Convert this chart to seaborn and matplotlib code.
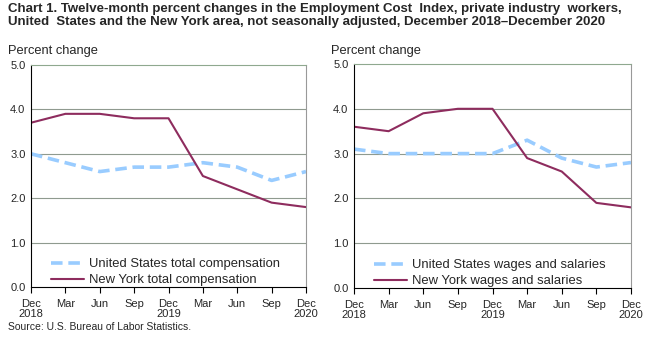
import matplotlib
matplotlib.use("Agg")
import matplotlib.pyplot as plt
import seaborn as sns
import pandas as pd

periods = ["Dec\n2018", "Mar", "Jun", "Sep", "Dec\n2019", "Mar", "Jun", "Sep", "Dec\n2020"]
us_total = [3.0, 2.8, 2.6, 2.7, 2.7, 2.8, 2.7, 2.4, 2.6]
ny_total = [3.7, 3.9, 3.9, 3.8, 3.8, 2.5, 2.2, 1.9, 1.8]
us_wages = [3.1, 3.0, 3.0, 3.0, 3.0, 3.3, 2.9, 2.7, 2.8]
ny_wages = [3.6, 3.5, 3.9, 4.0, 4.0, 2.9, 2.6, 1.9, 1.8]
yticks = [0.0, 1.0, 2.0, 3.0, 4.0, 5.0]

sns.set_style("white")
plt.rcParams['font.family'] = ['Liberation Sans', 'DejaVu Sans']

US_COLOR = "#99CCFF"
NY_COLOR = "#8E2C5E"
GRID = "#8f9a8f"
FRAME_TOP = "#8fa88f"
FRAME_RIGHT = "#999999"

fig = plt.figure(figsize=(6.53, 3.39), dpi=100)
W, H = 653, 339

def make_ax(x0, x1, y0, y1):
    return fig.add_axes([x0 / W, 1 - y1 / H, (x1 - x0) / W, (y1 - y0) / H])

panels = [
    (make_ax(31, 306, 65, 287), us_total, ny_total,
     "United States total compensation", "New York total compensation", 31),
    (make_ax(354, 631, 64, 288), us_wages, ny_wages,
     "United States wages and salaries", "New York wages and salaries", 354),
]

x = list(range(len(periods)))
for ax, us, ny, lab_us, lab_ny, xl in panels:
    for yv in [1, 2, 3, 4]:
        ax.axhline(yv, color=GRID, lw=0.8, zorder=0)
    sns.lineplot(x=x, y=us, ax=ax, color=US_COLOR, lw=2.6, label=lab_us,
                 dashes=False)
    ax.lines[-1].set_dashes([3.2, 1.6])
    sns.lineplot(x=x, y=ny, ax=ax, color=NY_COLOR, lw=1.5, label=lab_ny)
    ax.set_xlim(0, 8)
    ax.set_ylim(0, 5)
    ax.set_yticks(yticks)
    ax.set_yticklabels([f"{v:.1f}" for v in yticks], fontsize=8)
    ax.set_xticks(x)
    ax.set_xticklabels(periods, fontsize=8, linespacing=1.0)
    ax.tick_params(axis='x', direction='out', length=4, width=0.8, color='black',
                   bottom=True, pad=4.5)
    ax.tick_params(axis='y', length=0, pad=4)
    ax.spines['top'].set_color(FRAME_TOP)
    ax.spines['right'].set_color(FRAME_RIGHT)
    for s in ['top', 'right', 'left', 'bottom']:
        ax.spines[s].set_linewidth(0.8)
    ax.spines['left'].set_color('black')
    ax.spines['bottom'].set_color('black')
    ax.legend(loc='lower left', bbox_to_anchor=(0.055, -0.02), frameon=False,
              fontsize=9.4, handlelength=2.5, handletextpad=0.4,
              labelspacing=0.28, borderaxespad=0.0)
    fig.text((xl - 23) / W, 1 - 51 / H, "Percent change", fontsize=9.3,
             ha='left', va='center')

fig.text(8 / W, 1 - 3 / H,
         "Chart 1. Twelve-month percent changes in the Employment Cost  Index, private industry  workers,\n"
         "United  States and the New York area, not seasonally adjusted, December 2018\u2013December 2020",
         fontsize=9.5, fontweight='bold', ha='left', va='top', linespacing=1.15)
fig.text(8 / W, 1 - 327 / H, "Source: U.S. Bureau of Labor Statistics.", fontsize=7.5,
         ha='left', va='center')

fig.savefig("out.png", dpi=100)
